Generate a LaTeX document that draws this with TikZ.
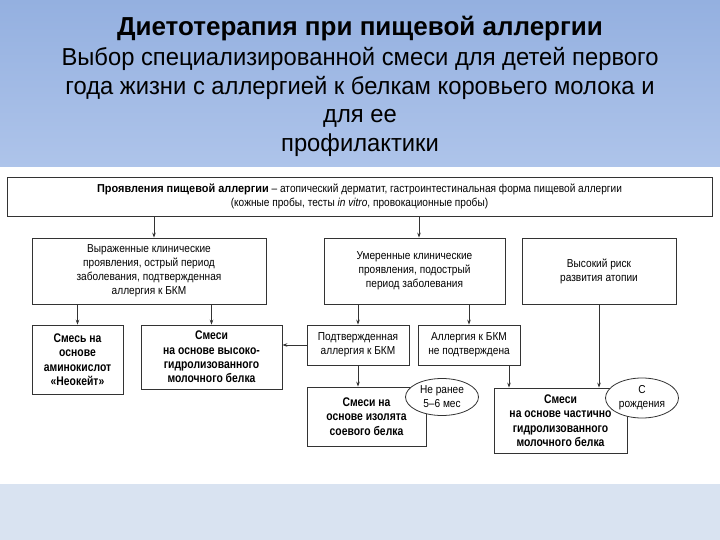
\documentclass[tikz,border=0pt]{standalone}
\usepackage{fontspec}
\setmainfont{Liberation Sans}
\newfontfamily\cond[FakeStretch=0.88]{Liberation Sans}
\newfontfamily\condb[FakeStretch=0.95]{Liberation Sans Bold}
\newfontfamily\condbb[FakeStretch=0.83]{Liberation Sans Bold}
\newfontfamily\narrow[FakeStretch=0.97]{Liberation Sans}
\usetikzlibrary{arrows.meta,shapes.geometric}
\definecolor{bgtop}{HTML}{94B0E0}
\definecolor{bgmid}{HTML}{AEC4EA}
\definecolor{band}{HTML}{D9E3F1}
\definecolor{ln}{HTML}{333333}
\begin{document}
\begin{tikzpicture}[x=1pt,y=-1pt,
  box/.style={draw=ln, line width=0.8pt, fill=white, align=center, inner sep=0pt,
    font=\cond\fontsize{11.5}{14}\selectfont},
  bbox/.style={box, font=\condbb\fontsize{12.5}{14.4}\selectfont},
  oval/.style={ellipse, draw=ln, line width=0.8pt, fill=white, align=center, inner sep=0pt,
    font=\cond\fontsize{11.5}{14}\selectfont},
  arr/.style={draw=ln, line width=0.8pt, -{Stealth[length=5pt,width=3.6pt]}}]
\useasboundingbox (0,0) rectangle (720,540);
\shade[top color=bgtop, bottom color=bgmid] (0,0) rectangle (720,167);
\fill[white] (0,167) rectangle (720,484);
\fill[band] (0,484) rectangle (720,540);

\node[font=\bfseries\fontsize{26}{28}\selectfont] (title) at (360,29) {Диетотерапия при пищевой аллергии};
\node[align=center, font=\narrow\fontsize{24.5}{28.8}\selectfont] (sub) at (360,102)
  {Выбор специализированной смеси для детей первого\\года жизни с аллергией к белкам коровьего молока и\\для ее\\профилактики};

\node[box, minimum width=705, minimum height=39] (top) at (359.5,196.5)
  {{\condb Проявления пищевой аллергии} – атопический дерматит, гастроинтестинальная форма пищевой аллергии\\(кожные пробы, тесты \textit{in vitro}, провокационные пробы)};

\node[box, minimum width=234, minimum height=66] (A) at (149,271)
  {Выраженные клинические\\проявления, острый период\\заболевания, подтвержденная\\аллергия к БКМ};
\node[box, minimum width=181, minimum height=66] (B) at (414.5,271)
  {Умеренные клинические\\проявления, подострый\\период заболевания};
\node[box, minimum width=154, minimum height=66] (C) at (599,271)
  {Высокий риск\\развития атопии};

\node[bbox, minimum width=91, minimum height=69] (amino) at (77.5,359.5)
  {Смесь на\\основе\\аминокислот\\«Неокейт»};
\node[bbox, minimum width=141, minimum height=64] (hydro) at (211.5,357)
  {Смеси\\на основе высоко-\\гидролизованного\\молочного белка};
\node[box, minimum width=102, minimum height=40] (D) at (358,345)
  {Подтвержденная\\аллергия к БКМ};
\node[box, minimum width=102, minimum height=40] (E) at (469,345)
  {Аллергия к БКМ\\не подтверждена};
\node[bbox, minimum width=119, minimum height=59] (F) at (366.5,416.5)
  {Смеси на\\основе изолята\\соевого белка};
\node[bbox, minimum width=133, minimum height=65] (G) at (560.5,420.5)
  {Смеси\\на основе частично\\гидролизованного\\молочного белка};

\node[oval, minimum width=73, minimum height=37] (o1) at (442,397) {Не ранее\\5–6 мес};
\node[oval, minimum width=73, minimum height=40] (o2) at (642,398) {С\\рождения};

\coordinate (xa) at (154,0);
\coordinate (xb) at (419,0);
\coordinate (xe) at (509,0);
\draw[arr] (top.south -| xa) -- (A.north -| xa);
\draw[arr] (top.south -| xb) -- (B.north -| xb);
\draw[arr] (A.south -| amino) -- (amino.north);
\draw[arr] (A.south -| hydro) -- (hydro.north);
\draw[arr] (B.south -| D) -- (D.north);
\draw[arr] (B.south -| E) -- (E.north);
\draw[arr] (D.west) -- (hydro.east |- D.west);
\draw[arr] (D.south) -- (F.north -| D.south);
\draw[arr] (E.south -| xe) -- (G.north -| xe);
\draw[arr] (C.south) -- (G.north -| C.south);
\end{tikzpicture}
\end{document}
